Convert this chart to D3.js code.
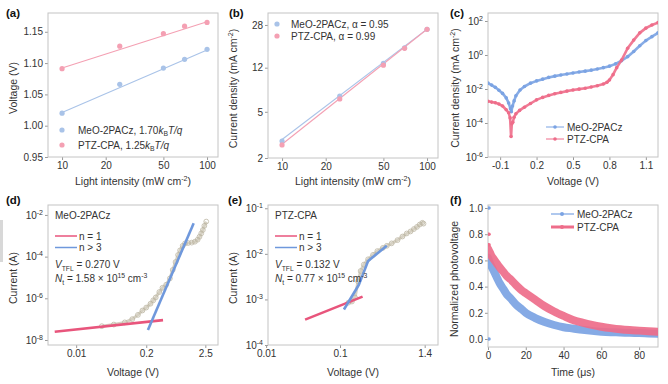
<!DOCTYPE html>
<html>
<head>
<meta charset="utf-8">
<script src="https://cdn.jsdelivr.net/npm/d3@7"></script>
<style>
    body { margin: 0; background: #fff; }
    svg { display: block; font-family: "Liberation Sans", Arial, sans-serif; }
</style>
</head>
<body>
<div id="fig"></div>
<script>

// ---- (a) Voc vs light intensity
const intensity = [10, 25, 50, 70, 100];
const vocMeO = [1.020, 1.066, 1.092, 1.106, 1.122];
const vocPTZ = [1.091, 1.127, 1.147, 1.159, 1.165];
const fitEnds = [10, 100];
const vocFitMeO = [1.021, 1.121];
const vocFitPTZ = [1.092, 1.166];

// ---- (b) Jsc vs light intensity
const jscMeO = [2.80, 6.84, 13.1, 17.8, 25.7];
const jscPTZ = [2.59, 6.46, 12.6, 17.6, 25.7];
const jscFitMeO = [2.89, 25.8];
const jscFitPTZ = [2.63, 25.7];

// ---- (c) dark J-V
const darkVMeO = [-0.20, -0.17, -0.14, -0.11, -0.08, -0.05, -0.03, -0.015, -0.008, 0.002, 0.015, 0.03, 0.064, 0.10, 0.15, 0.20, 0.25, 0.30, 0.35, 0.40, 0.45, 0.50, 0.55, 0.60, 0.65, 0.70, 0.75, 0.80, 0.85, 0.90, 0.95, 1.00, 1.05, 1.10, 1.15, 1.20];
const darkJMeO = [2.2e-2, 1.7e-2, 1.25e-2, 8.5e-3, 5.5e-3, 3e-3, 1.5e-3, 7e-4, 4.6e-4, 1e-3, 2e-3, 4e-3, 8.7e-3, 1.4e-2, 2.2e-2, 3.0e-2, 3.8e-2, 4.8e-2, 5.7e-2, 6.6e-2, 7.6e-2, 8.8e-2, 1.0e-1, 1.12e-1, 1.28e-1, 1.5e-1, 1.8e-1, 2.2e-1, 3.0e-1, 4.6e-1, 8e-1, 1.6, 3.5, 7, 12, 20];
const darkVPTZ = [-0.20, -0.17, -0.14, -0.11, -0.08, -0.05, -0.03, -0.018, -0.01, -0.004, 0.004, 0.015, 0.03, 0.06, 0.10, 0.15, 0.20, 0.25, 0.30, 0.35, 0.40, 0.45, 0.50, 0.55, 0.60, 0.65, 0.70, 0.75, 0.78, 0.80, 0.83, 0.86, 0.90, 0.95, 1.00, 1.05, 1.10, 1.15, 1.20];
const darkJPTZ = [1.9e-3, 1.7e-3, 1.55e-3, 1.3e-3, 1e-3, 6e-4, 4e-4, 2e-4, 1.6e-5, 9e-5, 1.1e-4, 2.2e-4, 3.5e-4, 5.5e-4, 8.5e-4, 1.4e-3, 2.3e-3, 3.2e-3, 4.2e-3, 5.3e-3, 6.3e-3, 7.5e-3, 8.7e-3, 9.8e-3, 1.1e-2, 1.3e-2, 1.55e-2, 1.95e-2, 2.5e-2, 3.4e-2, 7e-2, 1.8e-1, 5e-1, 2.5, 7.5, 20, 38, 58, 80];

// ---- (d) SCLC MeO-2PACz
const sclcVMeO = [0.03, 0.05, 0.08, 0.11, 0.14, 0.17, 0.20, 0.24, 0.27, 0.30, 0.35, 0.40, 0.47, 0.55, 0.62, 0.70, 0.78, 0.85, 0.95, 1.05, 1.2, 1.4, 1.6, 1.8, 1.95, 2.1, 2.25, 2.4, 2.6];
const sclcIMeO = [4.6e-8, 5.5e-8, 7e-8, 1.0e-7, 1.6e-7, 2.6e-7, 3.6e-7, 5.5e-7, 8e-7, 1.1e-6, 2e-6, 3.2e-6, 4.5e-6, 9e-6, 2.3e-5, 5.5e-5, 1.2e-4, 2e-4, 3.3e-4, 4.3e-4, 4.5e-4, 4.7e-4, 5.2e-4, 6.5e-4, 9e-4, 1.3e-3, 1.9e-3, 3e-3, 4.8e-3];
const ohmMeO = [[0.004, 2.5e-8], [0.41, 9e-8]];
const tflMeO = [[0.215, 3e-8], [1.52, 4e-3]];

// ---- (e) SCLC PTZ-CPA
const sclcVPTZ = [0.13, 0.145, 0.16, 0.175, 0.19, 0.21, 0.24, 0.28, 0.32, 0.38, 0.43, 0.5, 0.6, 0.7, 0.8, 0.9, 1.0, 1.1, 1.2, 1.3, 1.35];
const sclcIPTZ = [8.5e-4, 9e-4, 1.1e-3, 2.5e-3, 4.2e-3, 5.8e-3, 7.6e-3, 9.5e-3, 1.15e-2, 1.35e-2, 1.5e-2, 1.7e-2, 2.0e-2, 2.4e-2, 2.8e-2, 3.1e-2, 3.5e-2, 3.9e-2, 4.4e-2, 4.8e-2, 4.6e-2];
const ohmPTZ = [[0.0337, 3.6e-4], [0.202, 1.15e-3]];
const tflPTZ = [[0.113, 6e-4], [0.18, 2.1e-3], [0.24, 7e-3], [0.43, 1.5e-2]];

// ---- (f) transient photovoltage
const tpvTime = [0, 1, 2, 3, 4, 5, 6, 8, 10, 12, 15, 18, 20, 25, 30, 35, 40, 45, 50, 55, 60, 65, 70, 75, 80, 85, 90];
const tpvMeO = [0.62, 0.58, 0.55, 0.52, 0.49, 0.46, 0.43, 0.385, 0.34, 0.31, 0.26, 0.225, 0.20, 0.16, 0.13, 0.107, 0.09, 0.08, 0.07, 0.062, 0.056, 0.052, 0.05, 0.047, 0.045, 0.042, 0.04];
const tpvPTZ = [0.69, 0.66, 0.63, 0.61, 0.59, 0.57, 0.55, 0.515, 0.48, 0.455, 0.41, 0.37, 0.35, 0.30, 0.25, 0.21, 0.176, 0.145, 0.125, 0.108, 0.094, 0.083, 0.074, 0.068, 0.064, 0.06, 0.056];
const tpvSpikeMeO = [[0, 1.0], [0, 0.0]];
const tpvSpikePTZ = [[0, 0.8], [0, 0.72]];


const blue = "#7ba3e3", pink = "#ee6d8a";
const blueLight = "#a9c3e8", pinkLight = "#f4a0b3";
const frameCol = "#c4c4c4", textCol = "#333";

const svg = d3.select("#fig").append("svg")
    .attr("width", 668)
    .attr("height", 384);

// odd gray bar at the left edge of the scan
svg.append("rect").attr("x", 0).attr("y", 220).attr("width", 3).attr("height", 42).attr("fill", "#d8d8d8");

let clipId = 0;

// write text with italic / sub / superscript parts
function rich(sel, parts) {
    let shift = 0;
    parts.forEach(p => {
        if (typeof p === "string") p = { t: p };
        let target = p.sup ? -4 : (p.sub ? 2.5 : 0);
        let ts = sel.append("tspan").text(p.t);
        if (target !== shift) ts.attr("dy", target - shift);
        if (p.sup || p.sub) ts.attr("font-size", "0.68em");
        if (p.i) ts.attr("font-style", "italic");
        shift = target;
    });
    return sel;
}

function powTicks(axisG) {
    axisG.selectAll(".tick text").each(function(d) {
        let t = d3.select(this).text("10");
        t.append("tspan")
            .attr("dy", "-0.55em")
            .attr("font-size", "7px")
            .text(String(Math.round(Math.log10(d))));
    });
}

function plainFmt(d) { return String(d).replace("\u2212", "-"); }

function makePanel(box, x, y, o) {
    let g = svg.append("g");
    x.range([box.l, box.r]);
    y.range([box.b, box.t]);

    let xa = g.append("g")
        .attr("transform", "translate(0," + box.b + ")")
        .call(d3.axisBottom(x).tickValues(o.xt).tickFormat(o.xPow ? () => "" : (o.xf || plainFmt)).tickSize(3).tickPadding(2));
    let ya = g.append("g")
        .attr("transform", "translate(" + box.l + ",0)")
        .call(d3.axisLeft(y).tickValues(o.yt).tickFormat(o.yPow ? () => "" : (o.yf || plainFmt)).tickSize(3).tickPadding(2));
    if (o.yPow) powTicks(ya);
    if (o.xPow) powTicks(xa);

    [xa, ya].forEach(a => {
        a.select(".domain").remove();
        a.selectAll(".tick line").attr("stroke", "#999");
        a.selectAll(".tick text").attr("fill", textCol).attr("font-size", "10px")
            .attr("font-family", "Liberation Sans, Arial, sans-serif");
    });

    g.append("rect")
        .attr("x", box.l).attr("y", box.t)
        .attr("width", box.r - box.l).attr("height", box.b - box.t)
        .attr("fill", "none").attr("stroke", frameCol);

    // titles
    rich(g.append("text")
        .attr("x", (box.l + box.r) / 2).attr("y", o.xty)
        .attr("text-anchor", "middle").attr("font-size", "10.5px").attr("fill", textCol), o.xTitle);
    rich(g.append("text")
        .attr("transform", "translate(" + o.ytx + "," + ((box.t + box.b) / 2 + 3) + ") rotate(-90)")
        .attr("text-anchor", "middle").attr("font-size", "10.5px").attr("fill", textCol), o.yTitle);

    g.append("text")
        .attr("x", o.lab[0]).attr("y", o.lab[1])
        .attr("font-size", "11.5px").attr("font-weight", "bold").attr("fill", "#111")
        .text(o.label);

    let id = "clip" + (clipId++);
    g.append("clipPath").attr("id", id).append("rect")
        .attr("x", box.l).attr("y", box.t).attr("width", box.r - box.l).attr("height", box.b - box.t);
    let plot = g.append("g").attr("clip-path", "url(#" + id + ")");
    return { g: g, plot: plot };
}

const lineOf = (x, y) => d3.line().x(d => x(d[0])).y(d => y(d[1]));
const zip = (a, b) => a.map((v, i) => [v, b[i]]);

const lightTitle = ["Light intensity (mW cm", { t: "-2", sup: true }, ")"];

// ================= (a)
{
    let x = d3.scaleLog().domain([8.0, 119]);
    let y = d3.scaleLinear().domain([0.95, 1.18]);
    let p = makePanel({ l: 48, r: 218, t: 13, b: 157 }, x, y, {
        xt: [10, 20, 50, 100], yt: [0.95, 1.00, 1.05, 1.10, 1.15],
        yf: d3.format(".2f"),
        xTitle: lightTitle, yTitle: ["Voltage (V)"],
        xty: 185, ytx: 17, label: "(a)", lab: [6, 17]
    });
    let line = lineOf(x, y);
    [[vocFitMeO, blueLight], [vocFitPTZ, pinkLight]].forEach(([f, c]) => {
        p.plot.append("path").attr("d", line(zip(fitEnds, f)))
            .attr("fill", "none").attr("stroke", c).attr("stroke-width", 1.1);
    });
    [[vocMeO, blueLight], [vocPTZ, pinkLight]].forEach(([v, c]) => {
        p.plot.selectAll(null).data(zip(intensity, v)).enter().append("circle")
            .attr("cx", d => x(d[0])).attr("cy", d => y(d[1])).attr("r", 2.6).attr("fill", c);
    });
    let leg = [[blueLight, ["MeO-2PACz, 1.70", { t: "k", i: true }, { t: "B", sub: true }, { t: "T/q", i: true }]],
               [pinkLight, ["PTZ-CPA, 1.25", { t: "k", i: true }, { t: "B", sub: true }, { t: "T/q", i: true }]]];
    leg.forEach(([c, txt], i) => {
        p.g.append("circle").attr("cx", 62).attr("cy", 130 + i * 15).attr("r", 2.6).attr("fill", c);
        rich(p.g.append("text").attr("x", 78).attr("y", 133.5 + i * 15)
            .attr("font-size", "10px").attr("fill", textCol), txt);
    });
}

// ================= (b)
{
    let x = d3.scaleLog().domain([8.0, 119]);
    let y = d3.scaleLog().domain([2, 35.5]);
    let p = makePanel({ l: 268, r: 438, t: 13, b: 158 }, x, y, {
        xt: [10, 20, 50, 100], yt: [2, 5, 12, 28],
        xTitle: lightTitle, yTitle: ["Current density (mA cm", { t: "-2", sup: true }, ")"],
        xty: 185, ytx: 237, label: "(b)", lab: [229, 17]
    });
    let line = lineOf(x, y);
    [[jscFitMeO, blueLight], [jscFitPTZ, pinkLight]].forEach(([f, c]) => {
        p.plot.append("path").attr("d", line(zip(fitEnds, f)))
            .attr("fill", "none").attr("stroke", c).attr("stroke-width", 1.1);
    });
    [[jscMeO, blueLight], [jscPTZ, pinkLight]].forEach(([v, c]) => {
        p.plot.selectAll(null).data(zip(intensity, v)).enter().append("circle")
            .attr("cx", d => x(d[0])).attr("cy", d => y(d[1])).attr("r", 2.6).attr("fill", c);
    });
    let leg = [[blueLight, "MeO-2PACz, \u03b1 = 0.95"], [pinkLight, "PTZ-CPA, \u03b1 = 0.99"]];
    leg.forEach(([c, txt], i) => {
        p.g.append("circle").attr("cx", 277).attr("cy", 24 + i * 12).attr("r", 2.6).attr("fill", c);
        p.g.append("text").attr("x", 291).attr("y", 27.5 + i * 12)
            .attr("font-size", "10px").attr("fill", textCol).text(txt);
    });
}

// ================= (c)
{
    let x = d3.scaleLinear().domain([-0.2, 1.2]);
    let y = d3.scaleLog().domain([1e-6, 295]);
    let p = makePanel({ l: 488, r: 658, t: 13, b: 157 }, x, y, {
        xt: [-0.1, 0.2, 0.5, 0.8, 1.1], yt: [1e-6, 1e-4, 1e-2, 1, 100], yPow: true,
        xf: d => d3.format(".1f")(d).replace("\u2212", "-"),
        xTitle: ["Voltage (V)"], yTitle: ["Current density (mA cm", { t: "-2", sup: true }, ")"],
        xty: 185, ytx: 459, label: "(c)", lab: [450, 17]
    });
    let line = lineOf(x, y);
    [[zip(darkVMeO, darkJMeO), blue], [zip(darkVPTZ, darkJPTZ), pink]].forEach(([d, c]) => {
        p.plot.append("path").attr("d", line(d))
            .attr("fill", "none").attr("stroke", c).attr("stroke-width", 2.6)
            .attr("stroke-linejoin", "round").attr("opacity", 0.9);
        p.plot.selectAll(null).data(d).enter().append("circle")
            .attr("cx", d => x(d[0])).attr("cy", d => y(d[1])).attr("r", 1.8).attr("fill", c);
    });
    [[blue, "MeO-2PACz"], [pink, "PTZ-CPA"]].forEach(([c, txt], i) => {
        let yy = 127 + i * 12;
        p.g.append("line").attr("x1", 546).attr("x2", 564).attr("y1", yy).attr("y2", yy)
            .attr("stroke", c).attr("stroke-width", 1);
        p.g.append("circle").attr("cx", 555).attr("cy", yy).attr("r", 1.8).attr("fill", c);
        p.g.append("text").attr("x", 567).attr("y", yy + 3.5)
            .attr("font-size", "10px").attr("fill", textCol).text(txt);
    });
}

// SCLC panels (d) and (e)
function sclc(box, xDom, yDom, xt, yt, vArr, iArr, ohm, tfl, o) {
    let x = d3.scaleLog().domain(xDom);
    let y = d3.scaleLog().domain(yDom);
    let p = makePanel(box, x, y, {
        xt: xt, yt: yt, yPow: true, xf: d => String(d),
        xTitle: ["Voltage (V)"], yTitle: ["Current (A)"],
        xty: 376, ytx: o.ytx, label: o.label, lab: o.lab
    });
    let line = lineOf(x, y);
    let data = zip(vArr, iArr);
    p.plot.append("path").attr("d", line(data))
        .attr("fill", "none").attr("stroke", "#d6d1c3").attr("stroke-width", 3)
        .attr("stroke-linejoin", "round");
    p.plot.selectAll(null).data(data).enter().append("circle")
        .attr("cx", d => x(d[0])).attr("cy", d => y(d[1])).attr("r", 2.4)
        .attr("fill", "none").attr("stroke", "#bdb6a3").attr("stroke-width", 0.8);
    p.plot.append("path").attr("d", line(ohm))
        .attr("fill", "none").attr("stroke", "#e8557c").attr("stroke-width", 2.6);
    p.plot.append("path").attr("d", line(tfl))
        .attr("fill", "none").attr("stroke", "#6f98dc").attr("stroke-width", 2.6)
        .attr("stroke-linejoin", "round");

    let lx = box.l + 7;
    p.g.append("text").attr("x", lx).attr("y", 219).attr("font-size", "10px").attr("fill", textCol).text(o.name);
    [["#e8557c", "n = 1"], ["#6f98dc", "n > 3"]].forEach(([c, txt], i) => {
        let yy = 236 + i * 11.5;
        p.g.append("line").attr("x1", lx).attr("x2", lx + 22).attr("y1", yy).attr("y2", yy)
            .attr("stroke", c).attr("stroke-width", 1.5);
        p.g.append("text").attr("x", lx + 24).attr("y", yy + 3.5)
            .attr("font-size", "10px").attr("fill", textCol).text(txt);
    });
    rich(p.g.append("text").attr("x", lx).attr("y", 268).attr("font-size", "10px").attr("fill", textCol),
        [{ t: "V", i: true }, { t: "TFL", sub: true }, " = " + o.vtfl + " V"]);
    rich(p.g.append("text").attr("x", lx).attr("y", 282).attr("font-size", "10px").attr("fill", textCol),
        [{ t: "N", i: true }, { t: "t", sub: true }, " = " + o.nt + " 10", { t: "15", sup: true }, " cm", { t: "-3", sup: true }]);
}

sclc({ l: 48, r: 218, t: 205, b: 345 }, [0.003, 4.3], [5.75e-9, 3.0e-2], [0.01, 0.2, 2.5], [1e-8, 1e-6, 1e-4, 1e-2],
    sclcVMeO, sclcIMeO, ohmMeO, tflMeO,
    { name: "MeO-2PACz", vtfl: "0.270", nt: "1.58 \u00d7", label: "(d)", lab: [6, 204], ytx: 17 });

sclc({ l: 268, r: 438, t: 205, b: 345 }, [0.0106, 2.12], [1e-4, 0.118], [0.01, 0.1, 1.4], [1e-4, 1e-3, 1e-2, 1e-1],
    sclcVPTZ, sclcIPTZ, ohmPTZ, tflPTZ,
    { name: "PTZ-CPA", vtfl: "0.132", nt: "0.77 \u00d7", label: "(e)", lab: [228, 204], ytx: 237 });

// ================= (f)
{
    let x = d3.scaleLinear().domain([0, 90]);
    let y = d3.scaleLinear().domain([-0.061, 1.023]);
    let p = makePanel({ l: 488, r: 658, t: 205, b: 347 }, x, y, {
        xt: [0, 20, 40, 60, 80], yt: [0, 0.2, 0.4, 0.6, 0.8, 1.0],
        yf: d3.format(".1f"),
        xTitle: ["Time (\u03bcs)"], yTitle: ["Normalized photovoltage"],
        xty: 376, ytx: 458, label: "(f)", lab: [450, 204]
    });
    let line = lineOf(x, y).curve(d3.curveMonotoneX);
    [[tpvMeO, tpvSpikeMeO, blue], [tpvPTZ, tpvSpikePTZ, pink]].forEach(([v, s, c]) => {
        p.plot.append("path").attr("d", line(zip(tpvTime, v)))
            .attr("fill", "none").attr("stroke", c).attr("stroke-width", 8)
            .attr("stroke-linecap", "round").attr("opacity", 0.92);
        p.plot.selectAll(null).data(s).enter().append("circle")
            .attr("cx", d => x(d[0]) + 1).attr("cy", d => y(d[1])).attr("r", 1.8).attr("fill", c);
    });
    [[blue, "MeO-2PACz"], [pink, "PTZ-CPA"]].forEach(([c, txt], i) => {
        let yy = 214 + i * 13;
        p.g.append("line").attr("x1", 551).attr("x2", 574).attr("y1", yy).attr("y2", yy)
            .attr("stroke", c).attr("stroke-width", i ? 3 : 1.2);
        p.g.append("circle").attr("cx", 562).attr("cy", yy).attr("r", 2).attr("fill", c);
        p.g.append("text").attr("x", 577).attr("y", yy + 3.5)
            .attr("font-size", "10px").attr("fill", textCol).text(txt);
    });
}

</script>
</body>
</html>
